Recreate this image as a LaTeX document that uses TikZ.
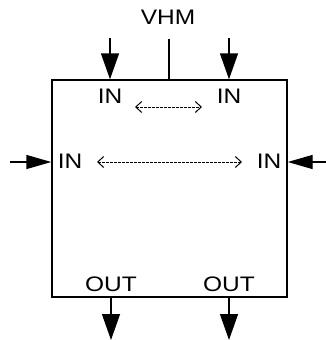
\documentclass[tikz,border=0pt]{standalone}
\usepackage{fontspec}
\setmainfont{Liberation Sans}
\usetikzlibrary{arrows.meta}
\newcommand{\lbltxt}[1]{\scalebox{2.45}[2.1]{\normalsize #1}}
\begin{document}
\begin{tikzpicture}[x=1pt,y=-1pt,
  lbl/.style={inner sep=0pt, anchor=base},
  vbig/.style={line width=1.4pt, -{Triangle[length=26pt,width=18pt]}},
  hbig/.style={line width=1.4pt, -{Triangle[length=25pt,width=14pt]}},
  dots/.style={line width=1pt, dash pattern=on 2.3pt off 1.7pt, {Straight Barb[length=6pt,width=11pt]}-{Straight Barb[length=6pt,width=11pt]}},
  boxst/.style={draw, line width=1.4pt, minimum width=235pt, minimum height=217pt, inner sep=0pt}]
\useasboundingbox (0,0) rectangle (326,340);
\node[boxst] (box) at (169.5,188.5) {};
% VHM
\node[lbl] (vhm) at (168,24) {\lbltxt{VHM}};
\coordinate (vtop) at (169,39);
\draw[line width=1.4pt] (vtop) -- (vtop |- box.north);
% top inputs
\coordinate (t1) at (110,38);
\coordinate (t2) at (229,38);
\draw[vbig] (t1) -- (t1 |- box.north);
\draw[vbig] (t2) -- (t2 |- box.north);
% side inputs
\coordinate (l1) at (10,162);
\coordinate (r1) at (326,162);
\draw[hbig] (l1) -- (l1 -| box.west);
\draw[hbig] (r1) -- (r1 -| box.east);
% bottom outputs
\coordinate (b1) at (111,340);
\coordinate (b2) at (229,340);
\draw[vbig] (b1 |- box.south) -- (b1);
\draw[vbig] (b2 |- box.south) -- (b2);
% labels
\node[lbl] (in1) at (110,103) {\lbltxt{IN}};
\node[lbl] (in2) at (229,103) {\lbltxt{IN}};
\node[lbl] (in3) at (70,168) {\lbltxt{IN}};
\node[lbl] (in4) at (269,168) {\lbltxt{IN}};
\node[lbl] (out1) at (111,291) {\lbltxt{OUT}};
\node[lbl] (out2) at (229,291) {\lbltxt{OUT}};
% dotted double arrows
\coordinate (d1a) at (135,107);
\coordinate (d1b) at (202,107);
\coordinate (d2a) at (97,162);
\coordinate (d2b) at (242,162);
\draw[dots] (d1a) -- (d1b);
\draw[dots] (d2a) -- (d2b);
\end{tikzpicture}
\end{document}
